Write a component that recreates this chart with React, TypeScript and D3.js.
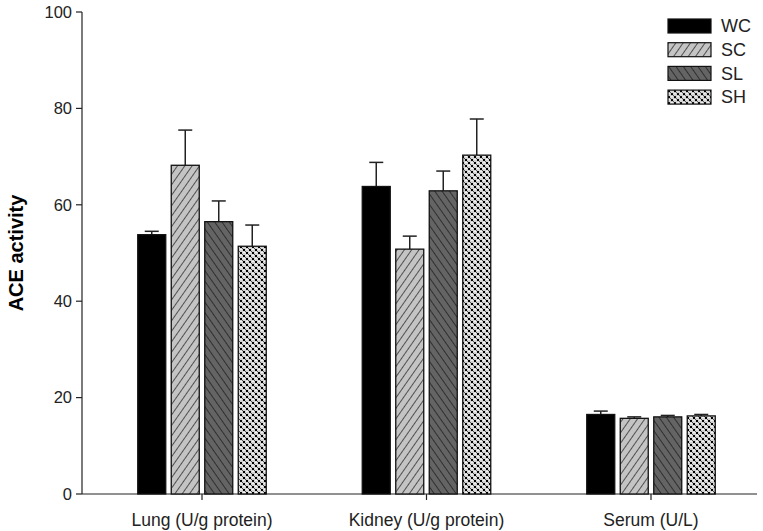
import React from "react";
import * as d3 from "d3";

const categories = ["Lung (U/g protein)", "Kidney (U/g protein)", "Serum (U/L)"];
const groups = ["WC", "SC", "SL", "SH"];
const meanWC = [53.8, 63.8, 16.5];
const meanSC = [68.2, 50.8, 15.7];
const meanSL = [56.5, 62.9, 16.0];
const meanSH = [51.4, 70.3, 16.2];
const errWC = [0.7, 5.0, 0.7];
const errSC = [7.3, 2.7, 0.3];
const errSL = [4.3, 4.1, 0.3];
const errSH = [4.4, 7.5, 0.3];
const yTicks = [0, 20, 40, 60, 80, 100];

const means = [meanWC, meanSC, meanSL, meanSH];
const errs = [errWC, errSC, errSL, errSH];
const fills = ["#000000", "url(#pSC)", "url(#pSL)", "url(#pSH)"];

export default function App() {
  const W = 763, H = 531;
  const y = d3.scaleLinear().domain([0, 100]).range([494, 12]);
  const xc = d3.scalePoint<string>().domain(categories).range([202, 651]);
  const barW = 28, gap = 5.5;
  const inner = d3.scaleBand<string>().domain(groups).range([-(barW * 2 + gap * 1.5), barW * 2 + gap * 1.5]).paddingInner(gap / (barW + gap));
  const font = "Arial, 'Liberation Sans', sans-serif";
  return (
    <svg width={W} height={H} style={{ position: "absolute", left: 0, top: 0 }} fontFamily={font}>
      <defs>
        <pattern id="pSC" patternUnits="userSpaceOnUse" width="6" height="6" patternTransform="rotate(35)">
          <rect width="6" height="6" fill="#c4c4c4" />
          <line x1="0" y1="0" x2="0" y2="6" stroke="#111" strokeWidth="1.3" />
        </pattern>
        <pattern id="pSL" patternUnits="userSpaceOnUse" width="6" height="6" patternTransform="rotate(-35)">
          <rect width="6" height="6" fill="#646464" />
          <line x1="0" y1="0" x2="0" y2="6" stroke="#111" strokeWidth="1.3" />
        </pattern>
        <pattern id="pSH" patternUnits="userSpaceOnUse" width="6" height="6">
          <rect width="6" height="6" fill="#d4d4d4" />
          <rect x="0" y="0" width="2" height="2" fill="#000" />
          <rect x="3" y="3" width="2" height="2" fill="#000" />
          <rect x="3" y="0" width="2" height="1" fill="#f4f4f4" />
          <rect x="0" y="3" width="2" height="1" fill="#f4f4f4" />
          <rect x="2" y="2" width="1" height="1" fill="#555" />
          <rect x="5" y="5" width="1" height="1" fill="#555" />
        </pattern>
      </defs>
      {/* y axis */}
      <line x1={82} x2={82} y1={y(100)} y2={y(0)} stroke="#222" strokeWidth={1.2} />
      {yTicks.map((t) => (
        <g key={t}>
          <line x1={76} x2={82} y1={y(t)} y2={y(t)} stroke="#222" strokeWidth={1.2} />
          <text x={72} y={y(t)} dy="0.35em" textAnchor="end" fontSize={16.5} fill="#222">{t}</text>
        </g>
      ))}
      <text transform={`translate(16,${y(50)}) rotate(-90)`} textAnchor="middle" dy="0.35em" fontSize={20} fontWeight="bold" fill="#000">ACE activity</text>
      {/* x axis */}
      <line x1={82} x2={757} y1={y(0)} y2={y(0)} stroke="#222" strokeWidth={1.2} />
      {categories.map((c) => (
        <g key={c}>
          <line x1={xc(c)} x2={xc(c)} y1={y(0)} y2={y(0) + 6} stroke="#222" strokeWidth={1.2} />
          <text x={xc(c)} y={520} dy="0.35em" textAnchor="middle" fontSize={17.5} fill="#222">{c}</text>
        </g>
      ))}
      {/* bars */}
      {groups.map((g, gi) =>
        categories.map((c, ci) => {
          const x0 = (xc(c) as number) + (inner(g) as number);
          const v = means[gi][ci];
          const e = errs[gi][ci];
          const cx = x0 + barW / 2;
          return (
            <g key={g + c}>
              <line x1={cx} x2={cx} y1={y(v)} y2={y(v + e)} stroke="#222" strokeWidth={1.5} />
              <line x1={cx - 7} x2={cx + 7} y1={y(v + e)} y2={y(v + e)} stroke="#222" strokeWidth={1.5} />
              <rect x={x0} y={y(v)} width={barW} height={y(0) - y(v)} fill={fills[gi]} stroke="#111" strokeWidth={1.3} />
            </g>
          );
        })
      )}
      {/* legend */}
      {groups.map((g, i) => (
        <g key={g} transform={`translate(668,${19 + i * 23.7})`}>
          <rect x={0} y={0} width={43} height={14} fill={fills[i]} stroke="#111" strokeWidth={1.2} />
          <text x={53} y={7} dy="0.35em" fontSize={18} fill="#222">{g}</text>
        </g>
      ))}
    </svg>
  );
}
